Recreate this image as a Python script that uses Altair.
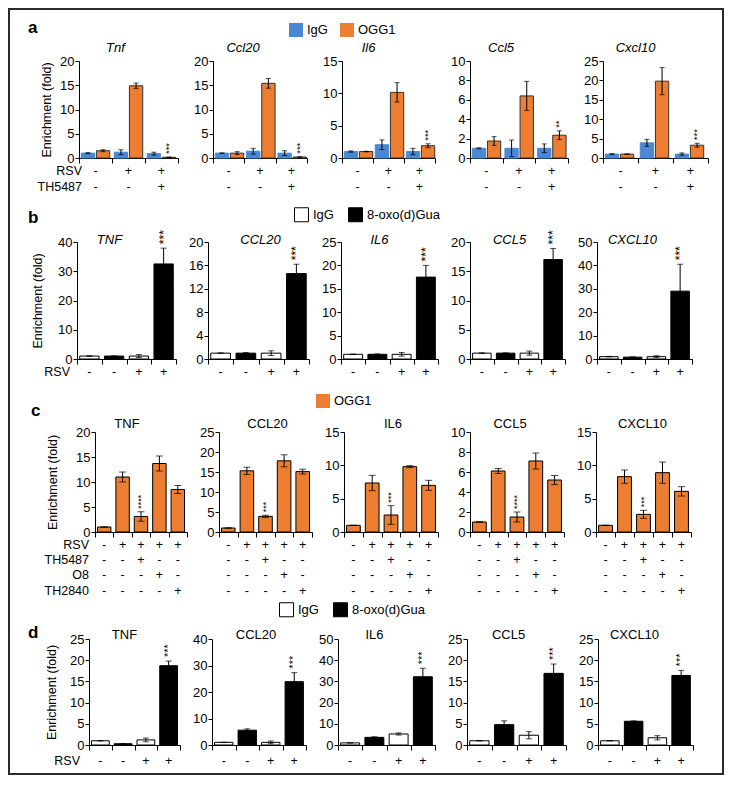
import altair as alt
import pandas as pd

FONT = "Liberation Sans"
BLUE = "#4a87d5"
ORANGE = "#ed7d31"
FRAME = "#2a2a2a"

# ---------------- panel a : ChIP, IgG vs OGG1 (mouse) ----------------
genes_a = ["Tnf", "Ccl20", "Il6", "Ccl5", "Cxcl10"]
series_a = ["IgG", "OGG1"]
groups_a = ["g1", "g2", "g3"]
rsv_a = ["-", "+", "+"]
th5487_a = ["-", "-", "+"]
igg_a = [[1.0, 1.2, 0.9], [1.0, 1.4, 1.0], [1.0, 2.05, 1.0], [1.0, 1.0, 1.0], [1.0, 3.9, 1.0]]
igg_err_a = [[0.1, 0.5, 0.3], [0.05, 0.6, 0.5], [0.1, 0.75, 0.5], [0.05, 0.85, 0.45], [0.1, 0.9, 0.3]]
ogg1_a = [[1.5, 14.9, 0.15], [1.0, 15.4, 0.2], [1.0, 10.15, 1.9], [1.75, 6.4, 2.35], [1.0, 19.8, 3.3]]
ogg1_err_a = [[0.2, 0.55, 0.05], [0.3, 1.0, 0.05], [0.05, 1.5, 0.3], [0.45, 1.5, 0.45], [0.05, 3.5, 0.5]]
stars_a = ["***", "***", "***", "**", "***"]
ymax_a = [20, 20, 15, 10, 25]
ystep_a = [5, 5, 5, 2, 5]

# ---------------- panel b : IgG vs 8-oxo(d)Gua (human) ----------------
genes_b = ["TNF", "CCL20", "IL6", "CCL5", "CXCL10"]
series_b = ["IgG", "8-oxo(d)Gua"]
slots_b = ["s1", "s2", "s3", "s4"]
antibody_b = ["IgG", "8-oxo(d)Gua", "IgG", "8-oxo(d)Gua"]
rsv_b = ["-", "-", "+", "+"]
vals_b = [[1.0, 1.0, 1.0, 32.5], [1.0, 1.0, 1.0, 14.6], [1.0, 1.0, 1.0, 17.5],
          [1.0, 1.0, 1.0, 17.0], [1.0, 0.8, 1.0, 29.0]]
errs_b = [[0.05, 0.1, 0.5, 5.4], [0.05, 0.1, 0.4, 1.6], [0.05, 0.1, 0.4, 2.5],
          [0.05, 0.05, 0.35, 1.9], [0.1, 0.1, 0.4, 11.5]]
stars_b = ["***", "***", "***", "***", "***"]
ymax_b = [40, 20, 25, 20, 50]
ystep_b = [10, 4, 5, 5, 10]

# ---------------- panel c : OGG1 with inhibitors ----------------
genes_c = ["TNF", "CCL20", "IL6", "CCL5", "CXCL10"]
series_c = ["OGG1"]
slots_c = ["s1", "s2", "s3", "s4", "s5"]
rsv_c = ["-", "+", "+", "+", "+"]
th5487_c = ["-", "-", "+", "-", "-"]
o8_c = ["-", "-", "-", "+", "-"]
th2840_c = ["-", "-", "-", "-", "+"]
vals_c = [[1.0, 11.0, 3.1, 13.7, 8.5], [1.0, 15.3, 3.9, 17.8, 15.1], [1.0, 7.35, 2.55, 9.8, 7.0],
          [1.0, 6.1, 1.5, 7.1, 5.2], [1.0, 8.3, 2.65, 8.9, 6.1]]
errs_c = [[0.0, 1.0, 0.95, 1.5, 0.8], [0.0, 0.9, 0.3, 1.5, 0.6], [0.0, 1.15, 1.4, 0.15, 0.75],
          [0.0, 0.25, 0.5, 0.8, 0.45], [0.0, 1.0, 0.6, 1.6, 0.7]]
stars_c = ["****", "***", "***", "****", "***"]
ymax_c = [20, 25, 15, 10, 15]
ystep_c = [5, 5, 5, 2, 5]

# ---------------- panel d : IgG vs 8-oxo(d)Gua ----------------
genes_d = ["TNF", "CCL20", "IL6", "CCL5", "CXCL10"]
series_d = ["IgG", "8-oxo(d)Gua"]
slots_d = ["s1", "s2", "s3", "s4"]
antibody_d = ["IgG", "8-oxo(d)Gua", "IgG", "8-oxo(d)Gua"]
rsv_d = ["-", "-", "+", "+"]
vals_d = [[1.0, 0.3, 1.2, 18.7], [1.0, 5.6, 1.0, 23.9], [1.0, 3.6, 5.2, 32.2],
          [1.0, 4.8, 2.3, 16.9], [1.0, 5.6, 1.7, 16.4]]
errs_d = [[0.05, 0.05, 0.45, 1.1], [0.05, 0.5, 0.5, 3.4], [0.05, 0.3, 0.5, 4.0],
          [0.05, 0.9, 0.85, 2.2], [0.05, 0.1, 0.5, 1.2]]
stars_d = ["***", "***", "***", "***", "***"]
ymax_d = [25, 40, 50, 25, 25]
ystep_d = [5, 10, 10, 5, 5]


def bars_frame(slots, abs_, vals, errs):
    return pd.DataFrame({
        "slot": slots, "ab": abs_, "val": vals,
        "lo": [v - e for v, e in zip(vals, errs)],
        "hi": [v + e for v, e in zip(vals, errs)],
    })


def frames_a(i):
    slots, abs_, vals, errs = [], [], [], []
    for j, g in enumerate(groups_a):
        for ab, v, e in (("IgG", igg_a[i][j], igg_err_a[i][j]), ("OGG1", ogg1_a[i][j], ogg1_err_a[i][j])):
            slots.append(g); abs_.append(ab); vals.append(v); errs.append(e)
    df = bars_frame(slots, abs_, vals, errs)
    st = df[(df.slot == "g3") & (df.ab == "OGG1")].copy()
    st["txt"] = stars_a[i]
    return df, st


def frames_simple(i, slots, abs_, vals, errs, stars, star_slot):
    df = bars_frame(slots, abs_, vals[i], errs[i])
    st = df[df.slot == star_slot].copy()
    st["txt"] = stars[i]
    return df, st


FRAME_RIGHT = 716
FRAME_W = 2
# layout settings per row (pixel offsets relative to each row's plot top / row origin)
rows_cfg = [
    dict(genes=genes_a, series=series_a, fills=[BLUE, ORANGE], strokes=[BLUE, "#333333"],
         slots=groups_a, ymax=ymax_a, ystep=ystep_a, lead=36, spacing=35,
         widths=[99, 94, 93, 98, 105], h=97, bounds=(-53, 136), edge="top",
         offset=True, band=1.0, cap=5, star_fs=9.5, star_dx=3, title_dy=-13,
         title_dx=[-13, -17, -20, -18, -20], italic=True, letter=("a", -51, -33), title_pad=6.5,
         conds=[("RSV", rsv_a), ("TH5487", th5487_a)], cond_off=[13, 29], name_x=3,
         legend=(281, -38, 0),
         frames=lambda i: frames_a(i)),
    dict(genes=genes_b, series=series_b, fills=["white", "black"], strokes=["black", "black"],
         slots=slots_b, ymax=ymax_b, ystep=ystep_b, lead=37, spacing=32,
         widths=[99, 101, 97, 95, 95], h=117, bounds=(-45, 145), edge=None,
         offset=False, band=0.78, cap=6, star_fs=12, star_dx=4, title_dy=-2,
         title_dx=[-17, 2, -10, -8, -12], italic=True, letter=("b", -49, -24), title_pad=13.5,
         conds=[("RSV", rsv_b)], cond_off=[13], name_x=-7,
         legend=(286, -35, 1),
         frames=lambda i: frames_simple(i, slots_b, antibody_b, vals_b, errs_b, stars_b, "s4")),
    dict(genes=genes_c, series=series_c, fills=[ORANGE], strokes=["black"],
         slots=slots_c, ymax=ymax_c, ystep=ystep_c, lead=55, spacing=32,
         widths=[92, 93, 94, 94, 95], h=100, bounds=(-45, 166), edge=None,
         offset=False, band=0.73, cap=7, star_fs=9, star_dx=3, title_dy=-8,
         title_dx=[-14, 2, 2, -7, -1], italic=False, letter=("c", -64, -21), title_pad=16.5,
         conds=[("RSV", rsv_c), ("TH5487", th5487_c), ("O8", o8_c), ("TH2840", th2840_c)],
         cond_off=[13, 28, 43, 59], name_x=-6,
         legend=(308, -38, 0),
         frames=lambda i: frames_simple(i, slots_c, ["OGG1"] * 5, vals_c, errs_c, stars_c, "s3")),
    dict(genes=genes_d, series=series_d, fills=["white", "black"], strokes=["black", "black"],
         slots=slots_d, ymax=ymax_d, ystep=ystep_d, lead=49, spacing=32,
         widths=[91, 94, 97, 99, 95], h=106, bounds=(-41, 136), edge="bottom",
         offset=False, band=0.78, cap=6, star_fs=11, star_dx=4, title_dy=-4,
         title_dx=[-10, -3, -12, -8, -11], italic=False, letter=("d", -61, -6), title_pad=11.5,
         conds=[("RSV", rsv_d)], cond_off=[16], name_x=-9,
         legend=(271, -37, 1),
         frames=lambda i: frames_simple(i, slots_d, antibody_d, vals_d, errs_d, stars_d, "s4")),
]


def make_panel(cfg, i):
    first = i == 0
    w, h = cfg["widths"][i], cfg["h"]
    ymax, ystep = cfg["ymax"][i], cfg["ystep"][i]
    df, st = cfg["frames"](i)
    xs = alt.Scale(domain=cfg["slots"], paddingInner=0, paddingOuter=0)
    ys = alt.Scale(domain=[0, ymax], nice=False, zero=True)
    xaxis = alt.Axis(labels=False, title=None, tickBand="extent", tickSize=5, grid=False)
    yaxis = alt.Axis(values=list(range(0, ymax + 1, ystep)),
                     title="Enrichment (fold)" if first else None,
                     titlePadding=cfg["title_pad"], grid=False)

    def X():
        return alt.X("slot:N", scale=xs, axis=xaxis)

    def Y(field):
        return alt.Y(field, scale=ys, axis=yaxis)

    off = {}
    if cfg["offset"]:
        off = dict(xOffset=alt.XOffset("ab:N", scale=alt.Scale(domain=cfg["series"],
                                                               paddingInner=0.12, paddingOuter=0.15)))
    lx, ly, lsw = cfg["legend"]
    legend = alt.Legend(orient="none", legendX=lx, legendY=ly, direction="horizontal", title=None,
                        symbolType="square", symbolSize=196, labelFontSize=13, labelFont=FONT,
                        labelColor="black", labelOffset=4, columnPadding=12,
                        symbolStrokeColor="black", symbolStrokeWidth=lsw)
    color = alt.Color("ab:N", scale=alt.Scale(domain=cfg["series"], range=cfg["fills"]), legend=legend)
    stroke = alt.Stroke("ab:N", scale=alt.Scale(domain=cfg["series"], range=cfg["strokes"]), legend=None)

    base = alt.Chart(df)
    layers = [
        base.mark_bar(width=alt.RelativeBandSize(cfg["band"]), strokeWidth=1).encode(
            x=X(), y=Y("val:Q"), color=color, stroke=stroke, **off),
        base.mark_rule(color="black", strokeWidth=1).encode(
            x=X(), y=Y("lo:Q"), y2="hi:Q", **off),
        base.transform_fold(["lo", "hi"], as_=["k", "v"]).mark_tick(
            color="black", thickness=1, size=cfg["cap"]).encode(
            x=X(), y=Y("v:Q"), **off),
        alt.Chart(st).mark_text(angle=270, align="left", baseline="middle", dx=cfg["star_dx"],
                                fontSize=cfg["star_fs"], font=FONT, color="black").encode(
            x=X(), y=Y("hi:Q"), text="txt:N", **off),
        alt.Chart(pd.DataFrame({"t": [cfg["genes"][i]]})).mark_text(
            fontSize=13, font=FONT, fontStyle="italic" if cfg["italic"] else "normal",
            baseline="middle", color="black").encode(
            x=alt.value(w / 2 + cfg["title_dx"][i]), y=alt.value(cfg["title_dy"]), text="t:N"),
    ]
    for k, (name, labs) in enumerate(cfg["conds"]):
        yv = h + cfg["cond_off"][k]
        layers.append(alt.Chart(pd.DataFrame({"slot": cfg["slots"], "lab": labs})).mark_text(
            fontSize=12.5, font=FONT, baseline="middle", color="black").encode(
            x=X(), y=alt.value(yv), text="lab:N"))
        if first:
            layers.append(alt.Chart(pd.DataFrame({"t": [name]})).mark_text(
                align="right", fontSize=12.5, font=FONT, baseline="middle", color="black").encode(
                x=alt.value(cfg["name_x"]), y=alt.value(yv), text="t:N"))
    if first:
        letter, lxp, lyp = cfg["letter"]
        layers.append(alt.Chart(pd.DataFrame({"t": [letter]})).mark_text(
            align="left", baseline="middle", fontSize=17, fontWeight="bold", font=FONT,
            color="black").encode(x=alt.value(lxp), y=alt.value(lyp), text="t:N"))
    return alt.layer(*layers).properties(width=w, height=h)


def block(x1, x2, y1, y2, **kw):
    return alt.Chart(pd.DataFrame({"t": [0]})).mark_rect(**kw).encode(
        x=alt.value(x1), x2=alt.value(x2), y=alt.value(y1), y2=alt.value(y2))


def lead_cell(cfg):
    # leading empty cell: fixes the row's indent and outer extent, and draws its part of the frame
    top, bot = cfg["bounds"]
    layers = [block(0, 1, top, bot, opacity=0)]
    for x in (0, FRAME_RIGHT - FRAME_W):
        layers.append(block(x, x + FRAME_W, top, bot, color=FRAME, strokeWidth=0))
    if cfg["edge"] == "top":
        layers.append(block(0, FRAME_RIGHT, top, top + FRAME_W, color=FRAME, strokeWidth=0))
    if cfg["edge"] == "bottom":
        layers.append(block(0, FRAME_RIGHT, bot - FRAME_W, bot, color=FRAME, strokeWidth=0))
    return alt.layer(*layers).properties(width=cfg["lead"], height=cfg["h"])


rows = []
for cfg in rows_cfg:
    cells = [lead_cell(cfg)] + [make_panel(cfg, i) for i in range(5)]
    rows.append(alt.hconcat(*cells, spacing=cfg["spacing"], bounds="flush"))

chart = alt.vconcat(*rows, spacing=0).resolve_scale(
    color="independent", stroke="independent").resolve_legend(color="independent").properties(
    padding={"left": 0, "top": 0, "right": 0, "bottom": 0}
).configure_view(stroke=None).configure_axis(
    grid=False, labelFont=FONT, labelFontSize=13, labelColor="black", titleFont=FONT,
    titleFontSize=12.5, titleFontWeight="normal", titleColor="black", domainColor="black",
    tickColor="black", tickSize=4, labelPadding=1, labelFlush=False
).configure_text(font=FONT)

chart.save("out.html", embed_options={"renderer": "svg", "actions": False})
